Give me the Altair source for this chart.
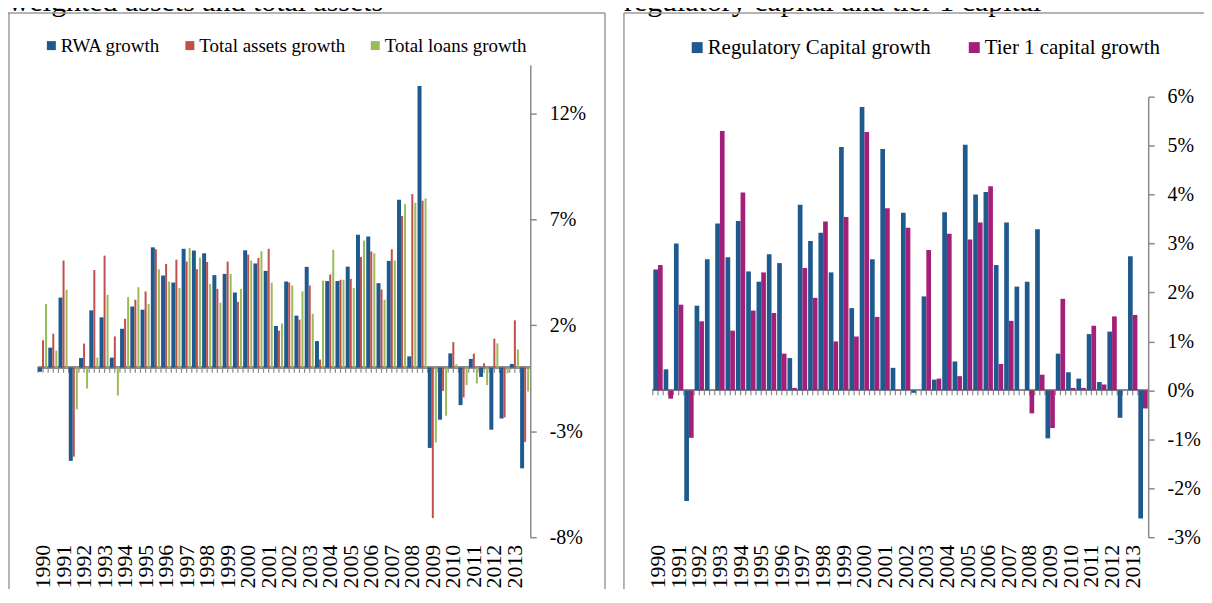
import altair as alt
import pandas as pd

# ---------------- data ----------------
years = list(range(1990, 2014))
periods = [f"{y}H{h}" for y in years for h in (1, 2)]

left_series = ["RWA growth", "Total assets growth", "Total loans growth"]
rwa = [-0.2, 0.94, 3.3, -4.4, 0.45, 2.7, 2.37, 0.47, 1.83, 2.88,
       2.73, 5.67, 4.34, 4.01, 5.6, 5.52, 5.39, 4.36, 4.42, 3.54,
       5.53, 4.91, 4.56, 1.96, 4.06, 2.45, 4.75, 1.25, 4.08, 4.08,
       4.76, 6.27, 6.18, 3.98, 5.03, 7.92, 0.53, 13.28, -3.79, -2.46,
       0.67, -1.77, 0.41, -0.44, -2.93, -2.4, 0.17, -4.75]
total_assets = [1.29, 1.6, 5.05, -4.2, 1.13, 4.6, 5.28, 1.47, 2.3, 3.2,
                3.59, 5.58, 4.89, 5.09, 5.0, 4.64, 4.98, 3.71, 5.0, 3.1,
                5.33, 5.17, 5.6, 1.74, 4.01, 2.26, 3.87, 0.38, 4.39, 4.14,
                4.18, 5.22, 5.47, 3.68, 5.58, 7.15, 8.18, 7.87, -7.1, -1.1,
                1.2, -1.41, 0.66, 0.2, 1.36, -2.35, 2.23, -3.5]
total_loans = [3.0, 0.8, 3.67, -1.97, -0.99, 0.47, 3.43, -1.32, 3.32, 3.79,
               3.0, 4.64, 4.06, 3.76, 5.64, 5.19, 3.95, 3.06, 4.42, 3.71,
               5.05, 5.49, 4.0, 2.08, 3.87, 3.59, 2.54, 4.1, 5.55, 4.14,
               3.76, 5.99, 5.39, 3.2, 5.05, 7.71, 7.77, 7.98, -3.53, -2.27,
               0.16, -0.83, -0.75, -0.83, 1.14, -0.27, 0.85, -1.13]

right_series = ["Regulatory Capital growth", "Tier 1 capital growth"]
reg_capital = [2.47, 0.43, 3.0, -2.26, 1.73, 2.68, 3.41, 2.72, 3.46, 2.43,
               2.22, 2.78, 2.6, 0.66, 3.79, 3.05, 3.22, 2.41, 4.97, 1.68,
               5.79, 2.68, 4.93, 0.46, 3.63, -0.05, 1.92, 0.22, 3.64, 0.59,
               5.02, 4.0, 4.05, 2.56, 3.43, 2.12, 2.22, 3.29, -0.98, 0.75,
               0.37, 0.24, 1.15, 0.17, 1.2, -0.56, 2.74, -2.62]
tier1 = [2.56, -0.17, 1.75, -0.97, 1.41, 0.0, 5.3, 1.22, 4.04, 1.63,
         2.41, 1.58, 0.75, 0.05, 2.5, 1.89, 3.45, 1.0, 3.54, 1.1,
         5.28, 1.5, 3.72, 0.01, 3.32, 0.0, 2.87, 0.24, 3.2, 0.29,
         3.08, 3.43, 4.17, 0.54, 1.42, 0.0, -0.47, 0.32, -0.77, 1.87,
         0.05, 0.05, 1.32, 0.12, 1.51, 0.0, 1.54, -0.37]

left_ticks = [-8, -3, 2, 7, 12]
right_ticks = [-3, -2, -1, 0, 1, 2, 3, 4, 5, 6]
title_left = "weighted assets and total assets"
title_right = "regulatory capital and tier 1 capital"

# ---------------- layout / style ----------------
W, H = 1200, 582
LX0, LX1 = 30, 524
RX0, RX1 = 647, 1144
FONT = "Liberation Serif"
GRAY = "#8a8a8a"
FRAME = "#9b9b9b"
left_colors = ["#1F5A8E", "#C0504D", "#9BBB59"]
right_colors = ["#1F5A8E", "#A3207A"]
label_expr = "slice(datum.label, 4) == 'H1' ? slice(datum.label, 0, 4) : ''"


def long_df(series, arrays):
    rows = []
    for s, vals in zip(series, arrays):
        for p, v in zip(periods, vals):
            rows.append({"period": p, "series": s, "value": v})
    return pd.DataFrame(rows)


ldf = long_df(left_series, [rwa, total_assets, total_loans])
rdf = long_df(right_series, [reg_capital, tier1])
pdf = pd.DataFrame({"period": periods})

X_AXIS = alt.Axis(orient="bottom", offset=537 - H, domain=False, ticks=False,
                  tickSize=0, labelAngle=-90, labelAlign="right",
                  labelBaseline="middle", labelPadding=0, labelFont=FONT,
                  labelFontSize=22, labelColor="black", labelExpr=label_expr,
                  labelOverlap=False, title=None)


def x_enc(x0, x1, band=None):
    kw = {}
    if band is not None:
        kw["bandPosition"] = band
    return alt.X("period:N", sort=periods,
                 scale=alt.Scale(domain=periods, range=[x0, x1],
                                 paddingInner=0, paddingOuter=0),
                 axis=X_AXIS, **kw)


def y_parts(dom, rng, ticks, x_axis_pos):
    scale = alt.Scale(domain=dom, range=rng, nice=False)
    axis = alt.Axis(orient="right", offset=x_axis_pos - W,
                    values=ticks, tickSize=6, tickColor=GRAY,
                    tickWidth=1.5, domainColor=GRAY,
                    domainWidth=1.5, grid=False, labelPadding=13,
                    labelFont=FONT, labelFontSize=20,
                    labelColor="black",
                    labelExpr="datum.value + '%'", title=None)
    return scale, axis


def panel(df, series, colors, sizes, x0, x1, dom, rng, ticks, tick_len,
          legend_x, legend_y, sym, lab_size, lab_off, col_pad, pad_outer):
    yscale, yaxis = y_parts(dom, rng, ticks, x1)
    layers = []
    for bp in (0, 0.5):
        layers.append(alt.Chart(pdf).mark_rule(color=GRAY, strokeWidth=1.2).encode(
            x=x_enc(x0, x1, band=bp),
            y=alt.YDatum(0, scale=yscale, axis=yaxis),
            y2=alt.datum(-tick_len)))
    layers.append(alt.Chart(pdf).mark_rule(color=GRAY, strokeWidth=1.5).encode(
        x=alt.value(x0), x2=alt.value(x1),
        y=alt.YDatum(0, scale=yscale, axis=yaxis)))
    for s, sz in zip(series, sizes):
        mk = alt.Chart(df).transform_filter(alt.datum.series == s)
        mk = mk.mark_bar(size=sz) if sz else mk.mark_bar()
        layers.append(mk.encode(
            x=x_enc(x0, x1),
            xOffset=alt.XOffset("series:N", sort=series,
                                scale=alt.Scale(domain=series, paddingInner=0,
                                                paddingOuter=pad_outer)),
            y=alt.Y("value:Q", scale=yscale, axis=yaxis),
            color=alt.Color("series:N",
                            scale=alt.Scale(domain=series, range=colors),
                            legend=alt.Legend(orient="none", legendX=legend_x,
                                              legendY=legend_y,
                                              direction="horizontal",
                                              title=None, symbolType="square",
                                              symbolSize=sym,
                                              symbolStrokeWidth=0,
                                              labelFont=FONT,
                                              labelFontSize=lab_size,
                                              labelColor="black",
                                              labelOffset=lab_off,
                                              labelLimit=600,
                                              columnPadding=col_pad,
                                              padding=0)),
        ))
    return alt.layer(*layers)


left = panel(ldf, left_series, left_colors, [4, 2, 2], LX0, LX1,
             [-8, 14.28], [530, 56], left_ticks, 0.25,
             34, 27, 81, 19, 0, 20, 0.2)
right = panel(rdf, right_series, right_colors, [None, None], RX0, RX1,
              [-3, 6], [530, 88], right_ticks, 0.1,
              681, 28, 121, 21, 0, 33, 0.1)

one = alt.Chart(pd.DataFrame({"k": [0]}))


def rule(x, y, x2=None, y2=None):
    enc = {"x": alt.value(x), "y": alt.value(y)}
    if x2 is not None:
        enc["x2"] = alt.value(x2)
    if y2 is not None:
        enc["y2"] = alt.value(y2)
    return one.mark_rule(color=FRAME, strokeWidth=1.5).encode(**enc)


frames = [
    rule(0, 4, x2=599),
    rule(1, 4, y2=H),
    rule(599, 4, y2=H),
    rule(618, 4, x2=W),
    rule(618, 4, y2=H),
]

titles = [
    one.mark_text(align="left", baseline="alphabetic", font=FONT, fontSize=30,
                  color="black").encode(x=alt.value(0), y=alt.value(2),
                                        text=alt.value(title_left)),
    one.mark_text(align="left", baseline="alphabetic", font=FONT, fontSize=30,
                  color="black").encode(x=alt.value(618), y=alt.value(2),
                                        text=alt.value(title_right)),
]

chart = alt.layer(*titles, *frames, left, right).resolve_scale(
    x="independent", y="independent", color="independent",
    xOffset="independent").resolve_axis(
    x="independent", y="independent").resolve_legend(
    color="independent").properties(
    width=W, height=H, padding=0,
    autosize=alt.AutoSizeParams(type="none")).configure(
    font=FONT).configure_axis(labelFont=FONT).configure_legend(
    labelFont=FONT).configure_view(stroke=None)

chart.save("out.html", embed_options={"renderer": "svg", "actions": False})
